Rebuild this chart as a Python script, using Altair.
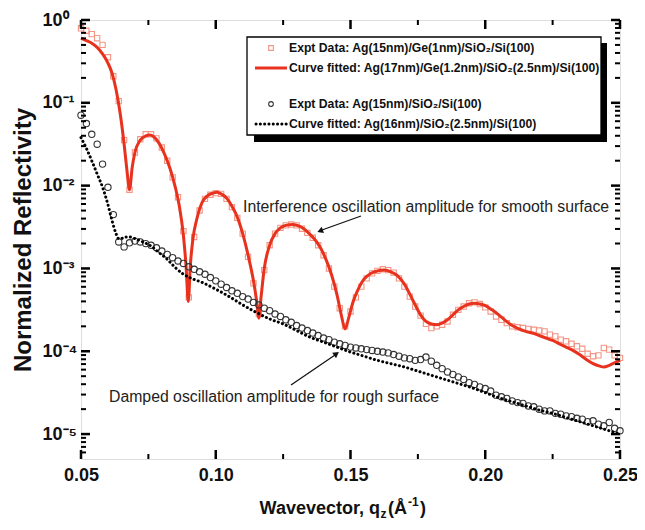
import altair as alt
import pandas as pd

# ---------------- data (log10 of normalized reflectivity) ----------------
q_expt = [0.050, 0.052, 0.054, 0.056, 0.058, 0.060, 0.062, 0.064, 0.066, 0.068,
          0.070, 0.072, 0.074, 0.076, 0.078, 0.080, 0.082, 0.084, 0.086, 0.088,
          0.090, 0.092, 0.094, 0.096, 0.098, 0.100, 0.102, 0.104, 0.106, 0.108,
          0.110, 0.112, 0.114, 0.116, 0.118, 0.120, 0.122, 0.124, 0.126, 0.128,
          0.130, 0.132, 0.134, 0.136, 0.138, 0.140, 0.142, 0.144, 0.146, 0.148,
          0.150, 0.152, 0.154, 0.156, 0.158, 0.160, 0.162, 0.164, 0.166, 0.168,
          0.170, 0.172, 0.174, 0.176, 0.178, 0.180, 0.182, 0.184, 0.186, 0.188,
          0.190, 0.192, 0.194, 0.196, 0.198, 0.200, 0.202, 0.204, 0.206, 0.208,
          0.210, 0.212, 0.214, 0.216, 0.218, 0.220, 0.222, 0.224, 0.226, 0.228,
          0.230, 0.232, 0.234, 0.236, 0.238, 0.240, 0.242, 0.244, 0.246, 0.248,
          0.250]

red_expt_log = [-0.10, -0.13, -0.17, -0.22, -0.30, -0.45, -0.68, -0.98, -1.45, -2.05,
                -1.60, -1.44, -1.38, -1.38, -1.43, -1.54, -1.70, -1.90, -2.14, -2.55,
                -3.35, -2.62, -2.30, -2.16, -2.11, -2.09, -2.10, -2.16, -2.26, -2.39,
                -2.58, -2.86, -3.18, -3.55, -3.02, -2.72, -2.58, -2.51, -2.48, -2.47,
                -2.48, -2.52, -2.57, -2.63, -2.72, -2.84, -3.00, -3.22, -3.48, -3.70,
                -3.52, -3.35, -3.22, -3.12, -3.06, -3.03, -3.01, -3.02, -3.05, -3.12,
                -3.22, -3.34, -3.46, -3.57, -3.67, -3.72, -3.70, -3.68, -3.64, -3.56,
                -3.50, -3.46, -3.42, -3.41, -3.43, -3.47, -3.52, -3.58, -3.62, -3.66,
                -3.70, -3.71, -3.72, -3.73, -3.74, -3.75, -3.76, -3.80, -3.82, -3.86,
                -3.88, -3.91, -3.94, -3.97, -4.03, -4.06, -4.05, -3.96, -3.98, -4.05,
                -4.08]

black_expt_log = [-1.15, -1.25, -1.38, -1.50, -1.74, -2.02, -2.35, -2.68, -2.74, -2.69,
                  -2.67, -2.68, -2.70, -2.72, -2.75, -2.79, -2.83, -2.87, -2.91, -2.94,
                  -2.98, -3.01, -3.04, -3.07, -3.11, -3.15, -3.19, -3.23, -3.27, -3.30,
                  -3.34, -3.37, -3.41, -3.44, -3.48, -3.51, -3.55, -3.58, -3.62, -3.65,
                  -3.69, -3.72, -3.75, -3.78, -3.81, -3.84, -3.86, -3.89, -3.91, -3.93,
                  -3.95, -3.96, -3.97, -3.98, -3.99, -4.00, -4.01, -4.02, -4.04, -4.06,
                  -4.08, -4.09, -4.11, -4.10, -4.07, -4.12, -4.17, -4.21, -4.25, -4.28,
                  -4.31, -4.34, -4.38, -4.40, -4.43, -4.45, -4.48, -4.53, -4.55, -4.57,
                  -4.60, -4.62, -4.63, -4.66, -4.67, -4.70, -4.72, -4.72, -4.75, -4.76,
                  -4.78, -4.79, -4.81, -4.82, -4.85, -4.84, -4.88, -4.90, -4.86, -4.93,
                  -4.96]

red_fit_q = [0.0500, 0.0520, 0.0540, 0.0560, 0.0580, 0.0600, 0.0615, 0.0630, 0.0645, 0.0660,
             0.0670, 0.0680, 0.0690, 0.0700, 0.0720, 0.0740, 0.0755, 0.0770, 0.0790, 0.0810,
             0.0830, 0.0850, 0.0865, 0.0880, 0.0890, 0.0898, 0.0906, 0.0915, 0.0930, 0.0950,
             0.0970, 0.0990, 0.1005, 0.1020, 0.1040, 0.1060, 0.1080, 0.1100, 0.1120, 0.1140,
             0.1152, 0.1160, 0.1168, 0.1180, 0.1200, 0.1220, 0.1240, 0.1260, 0.1285, 0.1310,
             0.1330, 0.1350, 0.1370, 0.1390, 0.1410, 0.1430, 0.1450, 0.1465, 0.1480, 0.1493,
             0.1510, 0.1530, 0.1550, 0.1575, 0.1600, 0.1625, 0.1650, 0.1675, 0.1700, 0.1720,
             0.1740, 0.1760, 0.1780, 0.1800, 0.1820, 0.1840, 0.1860, 0.1880, 0.1900, 0.1920,
             0.1940, 0.1960, 0.1980, 0.2000, 0.2025, 0.2050, 0.2075, 0.2100, 0.2125, 0.2150,
             0.2175, 0.2200, 0.2225, 0.2250, 0.2275, 0.2300, 0.2325, 0.2350, 0.2375, 0.2400,
             0.2425, 0.2440, 0.2460, 0.2480, 0.2500]
red_fit_log = [-0.22, -0.25, -0.28, -0.33, -0.41, -0.52, -0.64, -0.84, -1.12, -1.50,
               -1.80, -2.05, -1.78, -1.60, -1.45, -1.40, -1.39, -1.41, -1.49, -1.62,
               -1.79, -2.02, -2.25, -2.60, -2.98, -3.40, -2.95, -2.65, -2.40, -2.20,
               -2.12, -2.09, -2.08, -2.10, -2.15, -2.25, -2.38, -2.58, -2.84, -3.15,
               -3.40, -3.60, -3.35, -3.00, -2.72, -2.58, -2.51, -2.48, -2.47, -2.49,
               -2.53, -2.59, -2.66, -2.76, -2.90, -3.08, -3.32, -3.55, -3.73, -3.60,
               -3.40, -3.24, -3.13, -3.06, -3.03, -3.02, -3.04, -3.09, -3.19, -3.31,
               -3.44, -3.56, -3.64, -3.67, -3.68, -3.66, -3.62, -3.56, -3.50, -3.46,
               -3.43, -3.42, -3.43, -3.45, -3.50, -3.56, -3.63, -3.69, -3.73, -3.76,
               -3.78, -3.81, -3.84, -3.87, -3.91, -3.95, -3.99, -4.04, -4.10, -4.15,
               -4.18, -4.19, -4.17, -4.14, -4.11]

black_fit_q = [0.0500, 0.0520, 0.0540, 0.0560, 0.0580, 0.0600, 0.0615, 0.0630, 0.0640, 0.0650,
               0.0660, 0.0680, 0.0700, 0.0730, 0.0760, 0.0790, 0.0820, 0.0850, 0.0880, 0.0910,
               0.0950, 0.1000, 0.1050, 0.1100, 0.1150, 0.1200, 0.1250, 0.1300, 0.1350, 0.1400,
               0.1450, 0.1500, 0.1550, 0.1600, 0.1650, 0.1700, 0.1750, 0.1800, 0.1850, 0.1900,
               0.1950, 0.2000, 0.2050, 0.2100, 0.2150, 0.2200, 0.2250, 0.2300, 0.2350, 0.2400,
               0.2450, 0.2500]
black_fit_log = [-1.42, -1.55, -1.70, -1.86, -2.02, -2.23, -2.42, -2.58, -2.64, -2.64,
                 -2.62, -2.62, -2.64, -2.68, -2.73, -2.81, -2.89, -2.99, -3.07, -3.12,
                 -3.17, -3.25, -3.34, -3.44, -3.53, -3.61, -3.67, -3.75, -3.83, -3.89,
                 -3.95, -4.01, -4.06, -4.11, -4.15, -4.19, -4.24, -4.29, -4.34, -4.39,
                 -4.44, -4.50, -4.56, -4.61, -4.66, -4.71, -4.75, -4.80, -4.85, -4.90,
                 -4.95, -5.00]

legend_labels = [
    "Expt Data: Ag(15nm)/Ge(1nm)/SiO\u2082/Si(100)",
    "Curve fitted: Ag(17nm)/Ge(1.2nm)/SiO\u2082(2.5nm)/Si(100)",
    "Expt Data: Ag(15nm)/SiO\u2082/Si(100)",
    "Curve fitted: Ag(16nm)/SiO\u2082(2.5nm)/Si(100)",
]
annotations = [
    "Interference oscillation amplitude for smooth surface",
    "Damped oscillation amplitude for rough surface",
]
x_title_parts = ["Wavevector, q", "z", "(\u00c5", "-1", ")"]
y_title = "Normalized Reflectivity"

x_ticks_major = [0.05, 0.10, 0.15, 0.20, 0.25]
x_ticks_minor = [0.075, 0.125, 0.175, 0.225]
y_ticks_major = [1e-5, 1e-4, 1e-3, 1e-2, 1e-1, 1.0]
y_tick_labels = ["10\u207b\u2075", "10\u207b\u2074", "10\u207b\u00b3", "10\u207b\u00b2", "10\u207b\u00b9", "10\u2070"]
y_ticks_minor = [m * 10.0 ** e for e in range(-6, 0) for m in range(2, 10) if m * 10.0 ** e > 5.5e-6]

RED = "#e8321e"
SQ = "#f29584"
W, H = 539, 439

# ---------------- frames ----------------
red_expt = pd.DataFrame({"q": q_expt, "R": [10 ** v for v in red_expt_log]})
black_expt = pd.DataFrame({"q": q_expt, "R": [10 ** v for v in black_expt_log]})
red_fit = pd.DataFrame({"q": red_fit_q, "R": [10 ** v for v in red_fit_log]})
black_fit = pd.DataFrame({"q": black_fit_q, "R": [10 ** v for v in black_fit_log]})
one = pd.DataFrame({"a": [0]})

xs = alt.Scale(domain=[0.05, 0.25], nice=False, zero=False)
ys = alt.Scale(type="log", domain=[5e-6, 1], nice=False)

expr = ""
for v, lab in sorted(zip(y_ticks_major, y_tick_labels), reverse=True):
    expr += f"datum.value > {v / 2} ? '{lab}' : "
expr += "''"

x_axis = alt.Axis(values=x_ticks_major, format=".2f", labelFontSize=18, labelFontWeight="bold",
                  labelColor="#111", ticks=False, tickSize=0, domain=False, grid=False,
                  labelPadding=7, title=None, labelFlush=False)
y_axis = alt.Axis(values=y_ticks_major, labelExpr=expr, labelFontSize=18, labelFontWeight="bold",
                  labelColor="#111", ticks=False, tickSize=0, domain=False, grid=False,
                  labelAlign="left", labelPadding=39, labelBaseline="middle",
                  title=y_title, titleFontSize=24, titleFontWeight="bold", titleColor="#111",
                  titlePadding=7)

X = alt.X("q:Q", scale=xs)
Y = alt.Y("R:Q", scale=ys)

sq_layer = alt.Chart(red_expt).mark_point(shape="square", filled=False, size=28, strokeWidth=1.1,
                                          color=SQ, opacity=1).encode(
    x=alt.X("q:Q", scale=xs, axis=x_axis),
    y=alt.Y("R:Q", scale=ys, axis=y_axis),
)
circ_layer = alt.Chart(black_expt).mark_point(shape="circle", filled=False, size=40, strokeWidth=1.1,
                                              color="#333", opacity=1).encode(x=X, y=Y)
red_line = alt.Chart(red_fit).mark_line(color=RED, strokeWidth=3, interpolate="monotone").encode(x=X, y=Y)
black_line = alt.Chart(black_fit).mark_line(color="black", strokeWidth=3, strokeDash=[0.1, 4.2],
                                            strokeCap="round", interpolate="monotone").encode(x=X, y=Y)

# ---------------- inward ticks ----------------
def xticks(vals, y0, y1, sw):
    return alt.Chart(pd.DataFrame({"q": vals})).mark_rule(color="black", strokeWidth=sw).encode(
        x=X, y=alt.value(y0), y2=alt.value(y1))

def yticks(vals, x0, x1, sw):
    return alt.Chart(pd.DataFrame({"R": vals})).mark_rule(color="black", strokeWidth=sw).encode(
        y=Y, x=alt.value(x0), x2=alt.value(x1))

tick_layers = [
    xticks(x_ticks_major, H, H - 9, 2.5), xticks(x_ticks_minor, H, H - 5, 2),
    xticks(x_ticks_major, 0, 9, 2.5), xticks(x_ticks_minor, 0, 5, 2),
    yticks(y_ticks_major, 0, 9, 2.5), yticks(y_ticks_minor, 0, 5, 2),
    yticks(y_ticks_major, W, W - 9, 2.5), yticks(y_ticks_minor, W, W - 5, 2),
]

# ---------------- legend ----------------
bx0, by0, bx1, by1 = 166, 17, 520, 115
legend_layers = [
    alt.Chart(one).mark_rect(color="black").encode(
        x=alt.value(bx0 + 7), x2=alt.value(bx1 + 6), y=alt.value(by0 + 6), y2=alt.value(by1 + 7)),
    alt.Chart(one).mark_rect(fill="white", stroke="black", strokeWidth=1.3).encode(
        x=alt.value(bx0), x2=alt.value(bx1), y=alt.value(by0), y2=alt.value(by1)),
    alt.Chart(one).mark_point(shape="square", filled=False, size=22, strokeWidth=1.1, color=SQ,
                              opacity=1).encode(x=alt.value(190), y=alt.value(28)),
    alt.Chart(one).mark_rule(color=RED, strokeWidth=3).encode(
        x=alt.value(174), x2=alt.value(206), y=alt.value(48)),
    alt.Chart(one).mark_point(shape="circle", filled=False, size=22, strokeWidth=1.1, color="#333",
                              opacity=1).encode(x=alt.value(190), y=alt.value(84)),
    alt.Chart(one).mark_rule(color="black", strokeWidth=3, strokeDash=[0.1, 4.2], strokeCap="round").encode(
        x=alt.value(175), x2=alt.value(206), y=alt.value(104)),
]
for lab, yy in zip(legend_labels, [28, 48, 84, 104]):
    legend_layers.append(
        alt.Chart(one).mark_text(align="left", baseline="middle", fontSize=12.2, fontWeight="bold",
                                 color="#111").encode(x=alt.value(208), y=alt.value(yy), text=alt.value(lab)))

# ---------------- annotations ----------------
ann_layers = [
    alt.Chart(one).mark_text(align="left", baseline="middle", fontSize=15.8, color="#222").encode(
        x=alt.value(162), y=alt.value(187), text=alt.value(annotations[0])),
    alt.Chart(one).mark_text(align="left", baseline="middle", fontSize=15.8, color="#222").encode(
        x=alt.value(28), y=alt.value(377), text=alt.value(annotations[1])),
    alt.Chart(one).mark_rule(color="#111", strokeWidth=1.3).encode(
        x=alt.value(280), y=alt.value(196), x2=alt.value(241), y2=alt.value(210)),
    alt.Chart(one).mark_point(shape="triangle", filled=True, size=45, color="#111", angle=250,
                              opacity=1).encode(x=alt.value(240), y=alt.value(210.6)),
    alt.Chart(one).mark_rule(color="#111", strokeWidth=1.3).encode(
        x=alt.value(210), y=alt.value(365), x2=alt.value(254), y2=alt.value(335)),
    alt.Chart(one).mark_point(shape="triangle", filled=True, size=45, color="#111", angle=55,
                              opacity=1).encode(x=alt.value(254.7), y=alt.value(334.3)),
]

# ---------------- x title ----------------
TB = 494
title_layers = [
    alt.Chart(one).mark_text(align="right", baseline="alphabetic", fontSize=18, fontWeight="bold",
                             color="#111").encode(x=alt.value(299), y=alt.value(TB), text=alt.value(x_title_parts[0])),
    alt.Chart(one).mark_text(align="left", baseline="alphabetic", fontSize=12, fontWeight="bold",
                             color="#111").encode(x=alt.value(299.5), y=alt.value(TB + 4), text=alt.value(x_title_parts[1])),
    alt.Chart(one).mark_text(align="left", baseline="alphabetic", fontSize=18, fontWeight="bold",
                             color="#111").encode(x=alt.value(307), y=alt.value(TB), text=alt.value(x_title_parts[2])),
    alt.Chart(one).mark_text(align="left", baseline="alphabetic", fontSize=12, fontWeight="bold",
                             color="#111").encode(x=alt.value(327), y=alt.value(TB - 8), text=alt.value(x_title_parts[3])),
    alt.Chart(one).mark_text(align="left", baseline="alphabetic", fontSize=18, fontWeight="bold",
                             color="#111").encode(x=alt.value(339), y=alt.value(TB), text=alt.value(x_title_parts[4])),
]

chart = alt.layer(
    sq_layer, red_line, circ_layer, black_line,
    *tick_layers, *legend_layers, *ann_layers, *title_layers,
).properties(
    width=W, height=H,
    padding={"left": 73, "top": 12, "right": 17, "bottom": 63},
    autosize=alt.AutoSizeParams(type="none"),
).configure_view(
    stroke="black", strokeWidth=2.5,
).configure(font="Liberation Sans")

chart.save("out.html", embed_options={"renderer": "svg", "actions": False})
